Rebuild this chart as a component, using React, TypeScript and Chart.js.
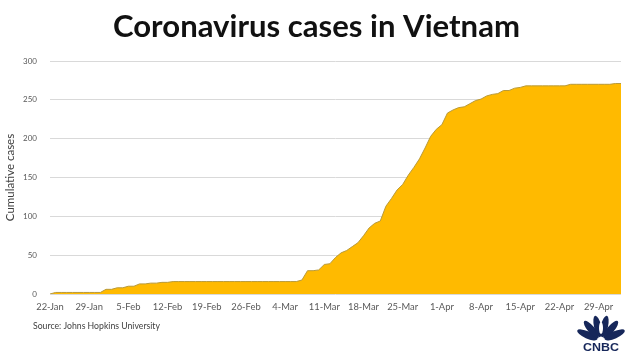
import React, { useEffect, useRef } from 'react';
import { Chart, registerables } from 'chart.js';

Chart.register(...registerables);

const TITLE = 'Coronavirus cases in Vietnam';
const SOURCE = 'Source: Johns Hopkins University';
const Y_TITLE = 'Cumulative cases';
const MONTHS = ['Jan', 'Feb', 'Mar', 'Apr', 'May'];

// Cumulative confirmed cases, daily from 22-Jan to 3-May
const CASES = [
  0, 2, 2, 2, 2, 2, 2, 2, 2, 2, // 22-31 Jan
  6, 6, 8, 8, 10, 10, 13, 13, 14, 14, 15, 15, 16, 16, 16, 16, 16, 16, 16, 16, 16, 16, 16, 16, 16, 16, 16, 16, 16, // Feb
  16, 16, 16, 16, 16, 16, 18, 30, 30, 31, 38, 39, 47, 53, 56, 61, 66, 75, 85, 91, 94, 113, 123, 134, 141, 153, 163, 174, 188, 203, 212, // Mar
  218, 233, 237, 240, 241, 245, 249, 251, 255, 257, 258, 262, 262, 265, 266, 268, 268, 268, 268, 268, 268, 268, 268, 270, 270, 270, 270, 270, 270, 270, // Apr
  270, 271, 271, // May
];

const CATEGORIES = CASES.map((_, i) => {
  const d = new Date(Date.UTC(2020, 0, 22 + i));
  return `${d.getUTCDate()}-${MONTHS[d.getUTCMonth()]}`;
});

const TICK_LABELS = ['22-Jan', '29-Jan', '5-Feb', '12-Feb', '19-Feb', '26-Feb', '4-Mar', '11-Mar', '18-Mar', '25-Mar', '1-Apr', '8-Apr', '15-Apr', '22-Apr', '29-Apr'];
const Y_MAX = 300;
const Y_STEP = 50;

const FONT = 'Lato, "Open Sans", sans-serif';

const decorPlugin = {
  id: 'decor',
  afterDraw(chart: any) {
    const ctx = chart.ctx as CanvasRenderingContext2D;
    ctx.save();
    // Title
    ctx.fillStyle = '#111111';
    ctx.font = `bold 31px ${FONT}`;
    ctx.textBaseline = 'alphabetic';
    const w = ctx.measureText(TITLE).width;
    const sx = 407 / w;
    ctx.save();
    ctx.translate(113, 37);
    ctx.scale(sx, 1);
    ctx.textAlign = 'left';
    ctx.fillText(TITLE, 0, 0);
    ctx.restore();

    // Source
    ctx.fillStyle = '#404040';
    ctx.font = `8.7px ${FONT}`;
    ctx.textAlign = 'left';
    ctx.textBaseline = 'middle';
    ctx.fillText(SOURCE, 33, 326);

    // CNBC logo
    const cx = 601;
    const cy = 341;
    ctx.fillStyle = '#16275a';
    const angles = [-66, -40, -13, 13, 40, 66];
    angles.forEach((a) => {
      const r = (a * Math.PI) / 180;
      ctx.save();
      ctx.translate(cx + Math.sin(r) * 14, cy - Math.cos(r) * 14);
      ctx.rotate(r);
      ctx.beginPath();
      ctx.ellipse(0, -1, 3.6, 11, 0, 0, Math.PI * 2);
      ctx.fill();
      ctx.restore();
    });
    ctx.fillStyle = '#ffffff';
    ctx.beginPath();
    ctx.ellipse(cx, cy - 13, 2, 6, 0, 0, Math.PI * 2);
    ctx.fill();
    ctx.fillStyle = '#16275a';
    ctx.font = `900 10px "Liberation Sans", Arial, sans-serif`;
    ctx.textAlign = 'center';
    ctx.textBaseline = 'alphabetic';
    const lw = ctx.measureText('CNBC').width;
    ctx.save();
    ctx.translate(cx, 351);
    ctx.scale(36 / lw, 1);
    ctx.fillText('CNBC', 0, 0);
    ctx.restore();
    ctx.restore();
  },
};

export default function App() {
  const ref = useRef<HTMLCanvasElement | null>(null);
  useEffect(() => {
    document.body.style.margin = '0';
    const canvas = ref.current;
    if (!canvas) return;
    const chart = new Chart(canvas, {
      type: 'line',
      data: {
        labels: CATEGORIES,
        datasets: [
          {
            data: CASES,
            fill: 'origin',
            backgroundColor: '#FFBA00',
            borderColor: '#b89a3a',
            borderWidth: 1,
            pointRadius: 0,
            tension: 0,
          },
        ],
      },
      options: {
        animation: false,
        responsive: false,
        maintainAspectRatio: false,
        layout: { padding: { top: 61, right: 9, left: 0, bottom: 0 } },
        plugins: {
          legend: { display: false },
          tooltip: { enabled: false },
          title: { display: false },
        },
        scales: {
          x: {
            type: 'category',
            offset: false,
            grid: { display: false, drawTicks: false },
            border: { display: false },
            ticks: {
              autoSkip: false,
              maxRotation: 0,
              minRotation: 0,
              padding: 7,
              color: '#595959',
              font: { family: FONT, size: 9.4 },
              callback: (_v: any, i: number) => (TICK_LABELS.includes(CATEGORIES[i]) ? CATEGORIES[i] : null),
            },
            afterFit: (s: any) => {
              s.height = 60;
            },
          },
          y: {
            min: 0,
            max: Y_MAX,
            ticks: {
              stepSize: Y_STEP,
              padding: 13,
              color: '#595959',
              font: { family: FONT, size: 8 },
            },
            grid: { color: '#d9d9d9', lineWidth: 1, drawTicks: false },
            border: { display: false },
            title: {
              display: true,
              text: Y_TITLE,
              color: '#404040',
              font: { family: FONT, size: 11.5 },
              padding: { top: 3, bottom: 0 },
            },
            afterFit: (s: any) => {
              s.width = 50;
            },
          },
        },
      },
      plugins: [decorPlugin],
    });
    return () => chart.destroy();
  }, []);
  return (
    <div style={{ position: 'absolute', left: 0, top: 0, width: 630, height: 354, background: '#fff' }}>
      <canvas ref={ref} width={630} height={354} style={{ display: 'block' }} />
    </div>
  );
}
